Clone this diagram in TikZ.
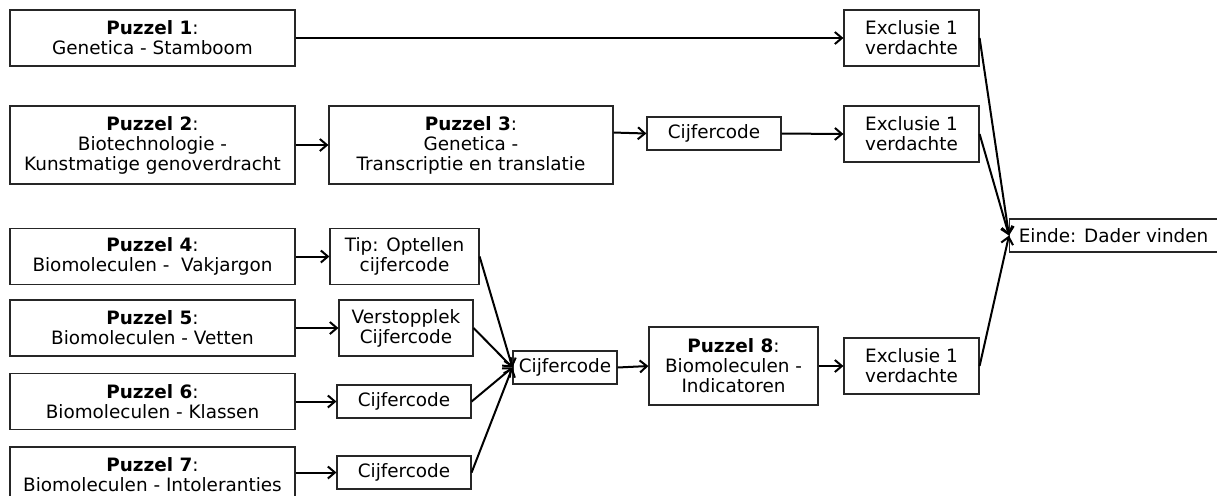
\documentclass[tikz,border=0pt]{standalone}
\usepackage{fontspec}
\setmainfont{DejaVu Sans}
\usetikzlibrary{arrows.meta}

\begin{document}
\begin{tikzpicture}[x=0.5pt, y=-0.5pt,
        every node/.style={font=\fontsize{9.2}{10}\selectfont, align=center, inner sep=0pt},
        kader/.style={draw=black!85, line width=0.6pt},
        puzzel/.style={kader, minimum width=142.5pt, minimum height=28pt},
        hoog/.style={kader, minimum height=39pt},
        excl/.style={kader, minimum width=67.5pt, minimum height=28pt},
        code/.style={kader, minimum width=67pt, minimum height=16.5pt},
        pijl/.style={-{Straight Barb[length=3.5pt,width=6pt]}, line width=1pt}]
        \useasboundingbox (0,0) rectangle (1217,495);

        % puzzels links
        \node [puzzel] (p1) at (152.5,38) {\textbf{Puzzel 1}:\\Genetica - Stamboom};
        \node [puzzel, hoog] (p2) at (152.5,145) {\textbf{Puzzel 2}:\\Biotechnologie -\\Kunstmatige genoverdracht};
        \node [puzzel] (p4) at (152.5,256.5) {\textbf{Puzzel 4}:\\Biomoleculen - \ Vakjargon};
        \node [puzzel] (p5) at (152.5,328) {\textbf{Puzzel 5}:\\Biomoleculen - Vetten};
        \node [puzzel] (p6) at (152.5,401.5) {\textbf{Puzzel 6}:\\Biomoleculen - Klassen};
        \node [puzzel] (p7) at (152.5,475) {\textbf{Puzzel 7}:\\Biomoleculen - Intoleranties};

        % tussenstappen
        \node [hoog, minimum width=142pt] (p3) at (471,145) {\textbf{Puzzel 3}:\\Genetica -\\Transcriptie en translatie};
        \node [code] (code3) at (714,133.5) {Cijfercode};
        \node [excl, minimum width=74.5pt] (tip4) at (404.5,256.5) {Tip: Optellen\\cijfercode};
        \node [excl, minimum width=67pt] (code5) at (406,328) {Verstopplek\\Cijfercode};
        \node [code] (code6) at (404,401.5) {Cijfercode};
        \node [code] (code7) at (404,472.5) {Cijfercode};
        \node [code, minimum width=52pt] (code8) at (565,367.5) {Cijfercode};
        \node [hoog, minimum width=84.5pt] (p8) at (733.5,366) {\textbf{Puzzel 8}:\\Biomoleculen -\\Indicatoren};

        % exclusies en einde
        \node [excl] (excl1) at (911.5,38) {Exclusie 1\\verdachte};
        \node [excl] (excl2) at (911.5,134) {Exclusie 1\\verdachte};
        \node [excl] (excl3) at (911.5,366) {Exclusie 1\\verdachte};
        \node [code, anchor=west, minimum width=104pt] (einde) at (1009,235.5) {Einde: Dader vinden};

        % pijlen
        \draw [pijl] (p1.east) -- (excl1.west);
        \draw [pijl] (p2.east) -- (p3.west);
        \draw [pijl] (p3.5) -- (code3.west);
        \draw [pijl] (code3.east) -- (excl2.west);
        \draw [pijl] (p4.east) -- (tip4.west);
        \draw [pijl] (p5.east) -- (code5.west);
        \draw [pijl] (p6.east) -- (code6.west);
        \draw [pijl] (p7.east |- code7.west) -- (code7.west);
        \foreach \i in {tip4,code5,code6,code7}
            \draw [pijl] (\i.east) -- (code8.west);
        \draw [pijl] (code8.east) -- (p8.west);
        \draw [pijl] (p8.east) -- (excl3.west);
        \foreach \i in {excl1,excl2,excl3}
            \draw [pijl] (\i.east) -- (einde.west);

    \end{tikzpicture}
\end{document}
